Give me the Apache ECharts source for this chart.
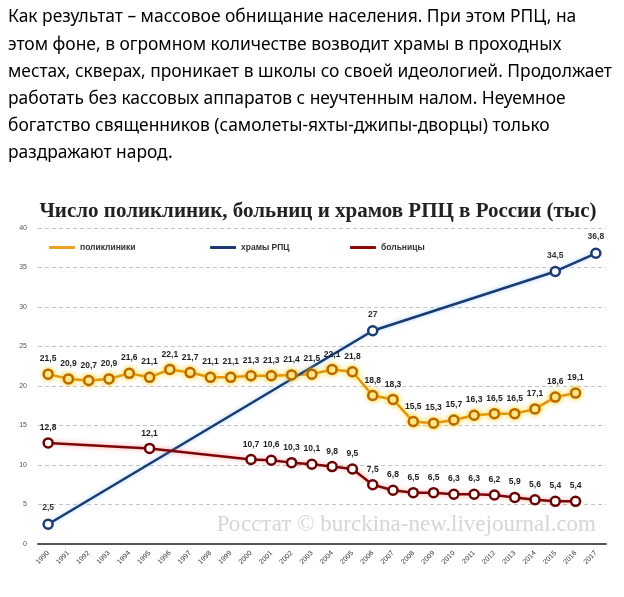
<!DOCTYPE html>
<html><head><meta charset="utf-8">
<script src="https://cdn.jsdelivr.net/npm/echarts@6/dist/echarts.min.js"></script>
<style>html,body{margin:0;padding:0;background:#fff}#c{width:624px;height:597px}</style>
</head><body><div id="c"></div>
<script>
const paragraph = [
  'Как результат – массовое обнищание населения. При этом РПЦ, на',
  'этом фоне, в огромном количестве возводит храмы в проходных',
  'местах, скверах, проникает в школы со своей идеологией. Продолжает',
  'работать без кассовых аппаратов с неучтенным налом. Неуемное',
  'богатство священников (самолеты-яхты-джипы-дворцы) только',
  'раздражают народ.'
];
const chartTitle = 'Число поликлиник, больниц и храмов РПЦ в России (тыс)';
const watermark = 'Росстат © burckina-new.livejournal.com';
const years = ['1990','1991','1992','1993','1994','1995','1996','1997','1998','1999','2000','2001','2002','2003','2004','2005','2006','2007','2008','2009','2010','2011','2012','2013','2014','2015','2016','2017'];
const polyclinics = [21.5,20.9,20.7,20.9,21.6,21.1,22.1,21.7,21.1,21.1,21.3,21.3,21.4,21.5,22.1,21.8,18.8,18.3,15.5,15.3,15.7,16.3,16.5,16.5,17.1,18.6,19.1,null];
const temples = [2.5,null,null,null,null,null,null,null,null,null,null,null,null,null,null,null,27,null,null,null,null,null,null,null,null,34.5,null,36.8];
const hospitals = [12.8,null,null,null,null,12.1,null,null,null,null,10.7,10.6,10.3,10.1,9.8,9.5,7.5,6.8,6.5,6.5,6.3,6.3,6.2,5.9,5.6,5.4,5.4,null];
const seriesNames = ['поликлиники','храмы РПЦ','больницы'];
const legendColors = ['#f0a020','#1a3a70','#8a0a0a'];

const fmt = p => String(p.value).replace('.', ',');
const chart = echarts.init(document.getElementById('c'));
const graphics = paragraph.map((t, i) => ({
  type: 'text', left: 8, top: 9 + i * 27.2,
  style: { text: t, font: '17.4px "Noto Sans"', fill: '#000' }
}));
graphics.push({ type: 'text', x: 318, y: 201,
  style: { text: chartTitle, font: 'bold 21px "Liberation Serif"', fill: '#222', align: 'center' } });
graphics.push({ type: 'text', right: 28, top: 513, z: 0,
  style: { text: watermark, font: '23px "Liberation Serif"', fill: '#d6d6d6' } });

const legendBase = { top: 238, itemWidth: 26, itemHeight: 3, icon: 'roundRect',
  textStyle: { fontSize: 8.5, fontWeight: 'bold', color: '#333' } };
const legends = seriesNames.map((n, i) => Object.assign({}, legendBase, {
  left: [44, 205, 345][i],
  data: [n],
  itemStyle: { color: legendColors[i], borderWidth: 0, shadowBlur: 0 }
}));

chart.setOption({
  animation: false,
  backgroundColor: '#fff',
  graphic: graphics,
  legend: legends,
  grid: { left: 38, right: 18, top: 228, bottom: 53 },
  xAxis: {
    type: 'category', data: years, boundaryGap: true,
    axisLine: { lineStyle: { color: '#555', width: 2 } },
    axisTick: { show: false },
    axisLabel: { rotate: 45, fontSize: 7, color: '#333', margin: 8, interval: 0 }
  },
  yAxis: {
    type: 'value', min: 0, max: 40, interval: 5,
    axisLine: { show: false }, axisTick: { show: false },
    axisLabel: { fontSize: 7, color: '#555', margin: 11 },
    splitLine: { lineStyle: { type: [4, 3], color: '#c4c4c4' } }
  },
  series: [
    { name: seriesNames[0], type: 'line', data: polyclinics, color: '#e89a10',
      symbol: 'circle', symbolSize: 9,
      lineStyle: { width: 2.5, color: '#e0920a', shadowColor: 'rgba(255,210,0,0.8)', shadowBlur: 6 },
      itemStyle: { color: '#fff3c0', borderColor: '#b86a00', borderWidth: 2.5, shadowColor: 'rgba(255,200,0,0.8)', shadowBlur: 5 },
      label: { show: true, position: 'top', formatter: fmt, fontSize: 8.5, fontWeight: 'bold', color: '#222', distance: 5 } },
    { name: seriesNames[1], type: 'line', data: temples, connectNulls: true, color: '#1a3a70',
      symbol: 'circle', symbolSize: 9,
      lineStyle: { width: 2.5, color: '#1a3a70', shadowColor: 'rgba(120,190,255,0.7)', shadowBlur: 4 },
      itemStyle: { color: '#fff', borderColor: '#1a3a70', borderWidth: 2.5 },
      label: { show: true, position: 'top', formatter: fmt, fontSize: 8.5, fontWeight: 'bold', color: '#333', distance: 6 } },
    { name: seriesNames[2], type: 'line', data: hospitals, connectNulls: true, color: '#8a0a0a',
      symbol: 'circle', symbolSize: 9,
      lineStyle: { width: 2.5, color: '#7a0808', shadowColor: 'rgba(255,80,80,0.6)', shadowBlur: 5 },
      itemStyle: { color: '#fff', borderColor: '#6a0505', borderWidth: 2.5 },
      label: { show: true, position: 'top', formatter: fmt, fontSize: 8.5, fontWeight: 'bold', color: '#222', distance: 5 } }
  ]
});
</script></body></html>
